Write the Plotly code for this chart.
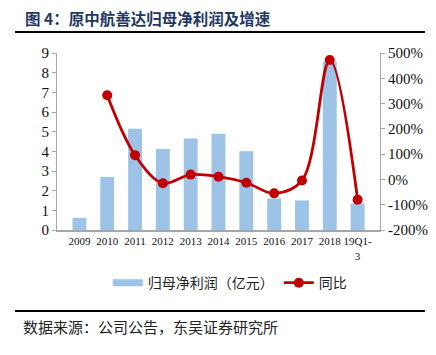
import plotly.graph_objects as go

categories = ["2009", "2010", "2011", "2012", "2013", "2014", "2015", "2016", "2017", "2018", "19Q1-<br>3"]
profit = [0.62, 2.7, 5.15, 4.12, 4.65, 4.9, 4.0, 1.6, 1.5, 8.55, 1.35]
growth = [None, 333, 96, -15, 19, 11, -13, -55, -4, 472, -80]

left_ticks = list(range(0, 10))
right_ticks = list(range(-200, 501, 100))
right_labels = [f"{v}%" for v in right_ticks]

serif = "Liberation Serif, Times New Roman, serif"
cjk = "Noto Sans CJK SC"
bar_color = "#9DC3E6"
line_color = "#C00000"

fig = go.Figure()
fig.add_trace(go.Bar(
    x=categories, y=profit, name="归母净利润（亿元）", showlegend=False,
    marker=dict(color=bar_color, line=dict(width=0)), width=0.5,
))
# legend proxy with wide swatch
fig.add_trace(go.Scatter(
    x=[None], y=[None], name="归母净利润（亿元）", mode="lines",
    line=dict(color=bar_color, width=7),
))
fig.add_trace(go.Scatter(
    x=categories, y=growth, name="同比", yaxis="y2",
    mode="lines+markers", line=dict(color=line_color, width=2.8, shape="spline", smoothing=1.0),
    marker=dict(color=line_color, size=10), connectgaps=False,
))

fig.update_layout(
    width=436, height=355,
    margin=dict(l=57, r=56, t=53, b=125),
    paper_bgcolor="white", plot_bgcolor="white",
    showlegend=True,
    legend=dict(orientation="h", x=0.535, xanchor="center", y=-0.30, yanchor="middle",
                font=dict(family=cjk, size=14, color="#222"),
                traceorder="normal", itemwidth=30),
    xaxis=dict(type="category", showline=True, linecolor="#A6A6A6", linewidth=2,
               ticks="", tickfont=dict(family=serif, size=11, color="#111"),
               showgrid=False, tickangle=0, automargin=False),
    yaxis=dict(range=[0, 9], tickmode="array", tickvals=left_ticks, showline=True, linecolor="#A6A6A6",
               linewidth=1, ticks="outside", ticklen=4, tickcolor="#A6A6A6",
               tickfont=dict(family=serif, size=15, color="#111"), showgrid=False, zeroline=False,
               automargin=False),
    yaxis2=dict(range=[-200, 500], tickmode="array", tickvals=right_ticks, ticktext=right_labels,
                overlaying="y", side="right",
                showline=True, linecolor="#A6A6A6", linewidth=1, ticks="outside", ticklen=4,
                tickcolor="#A6A6A6", tickfont=dict(family=serif, size=15, color="#111"),
                showgrid=False, zeroline=False, automargin=False),
)

fig.add_annotation(xref="paper", yref="paper", x=-0.105, xanchor="left", y=1.198, yanchor="middle",
                   text="<b>图 4：原中航善达归母净利润及增速</b>", showarrow=False,
                   font=dict(family=cjk, size=15.5, color="#1F3864"))
fig.add_shape(type="line", xref="paper", yref="paper", x0=-0.13, x1=1.139, y0=1.119, y1=1.119,
              line=dict(color="black", width=2))
fig.add_shape(type="line", xref="paper", yref="paper", x0=-0.13, x1=1.139, y0=-0.458, y1=-0.458,
              line=dict(color="black", width=2))
fig.add_annotation(xref="paper", yref="paper", x=-0.11, xanchor="left", y=-0.548, yanchor="middle",
                   text="数据来源：公司公告，东吴证券研究所", showarrow=False,
                   font=dict(family=cjk, size=15, color="#222"))

fig.write_html("out.html", config={"displayModeBar": False},
               post_script="document.body.style.margin='0';")
